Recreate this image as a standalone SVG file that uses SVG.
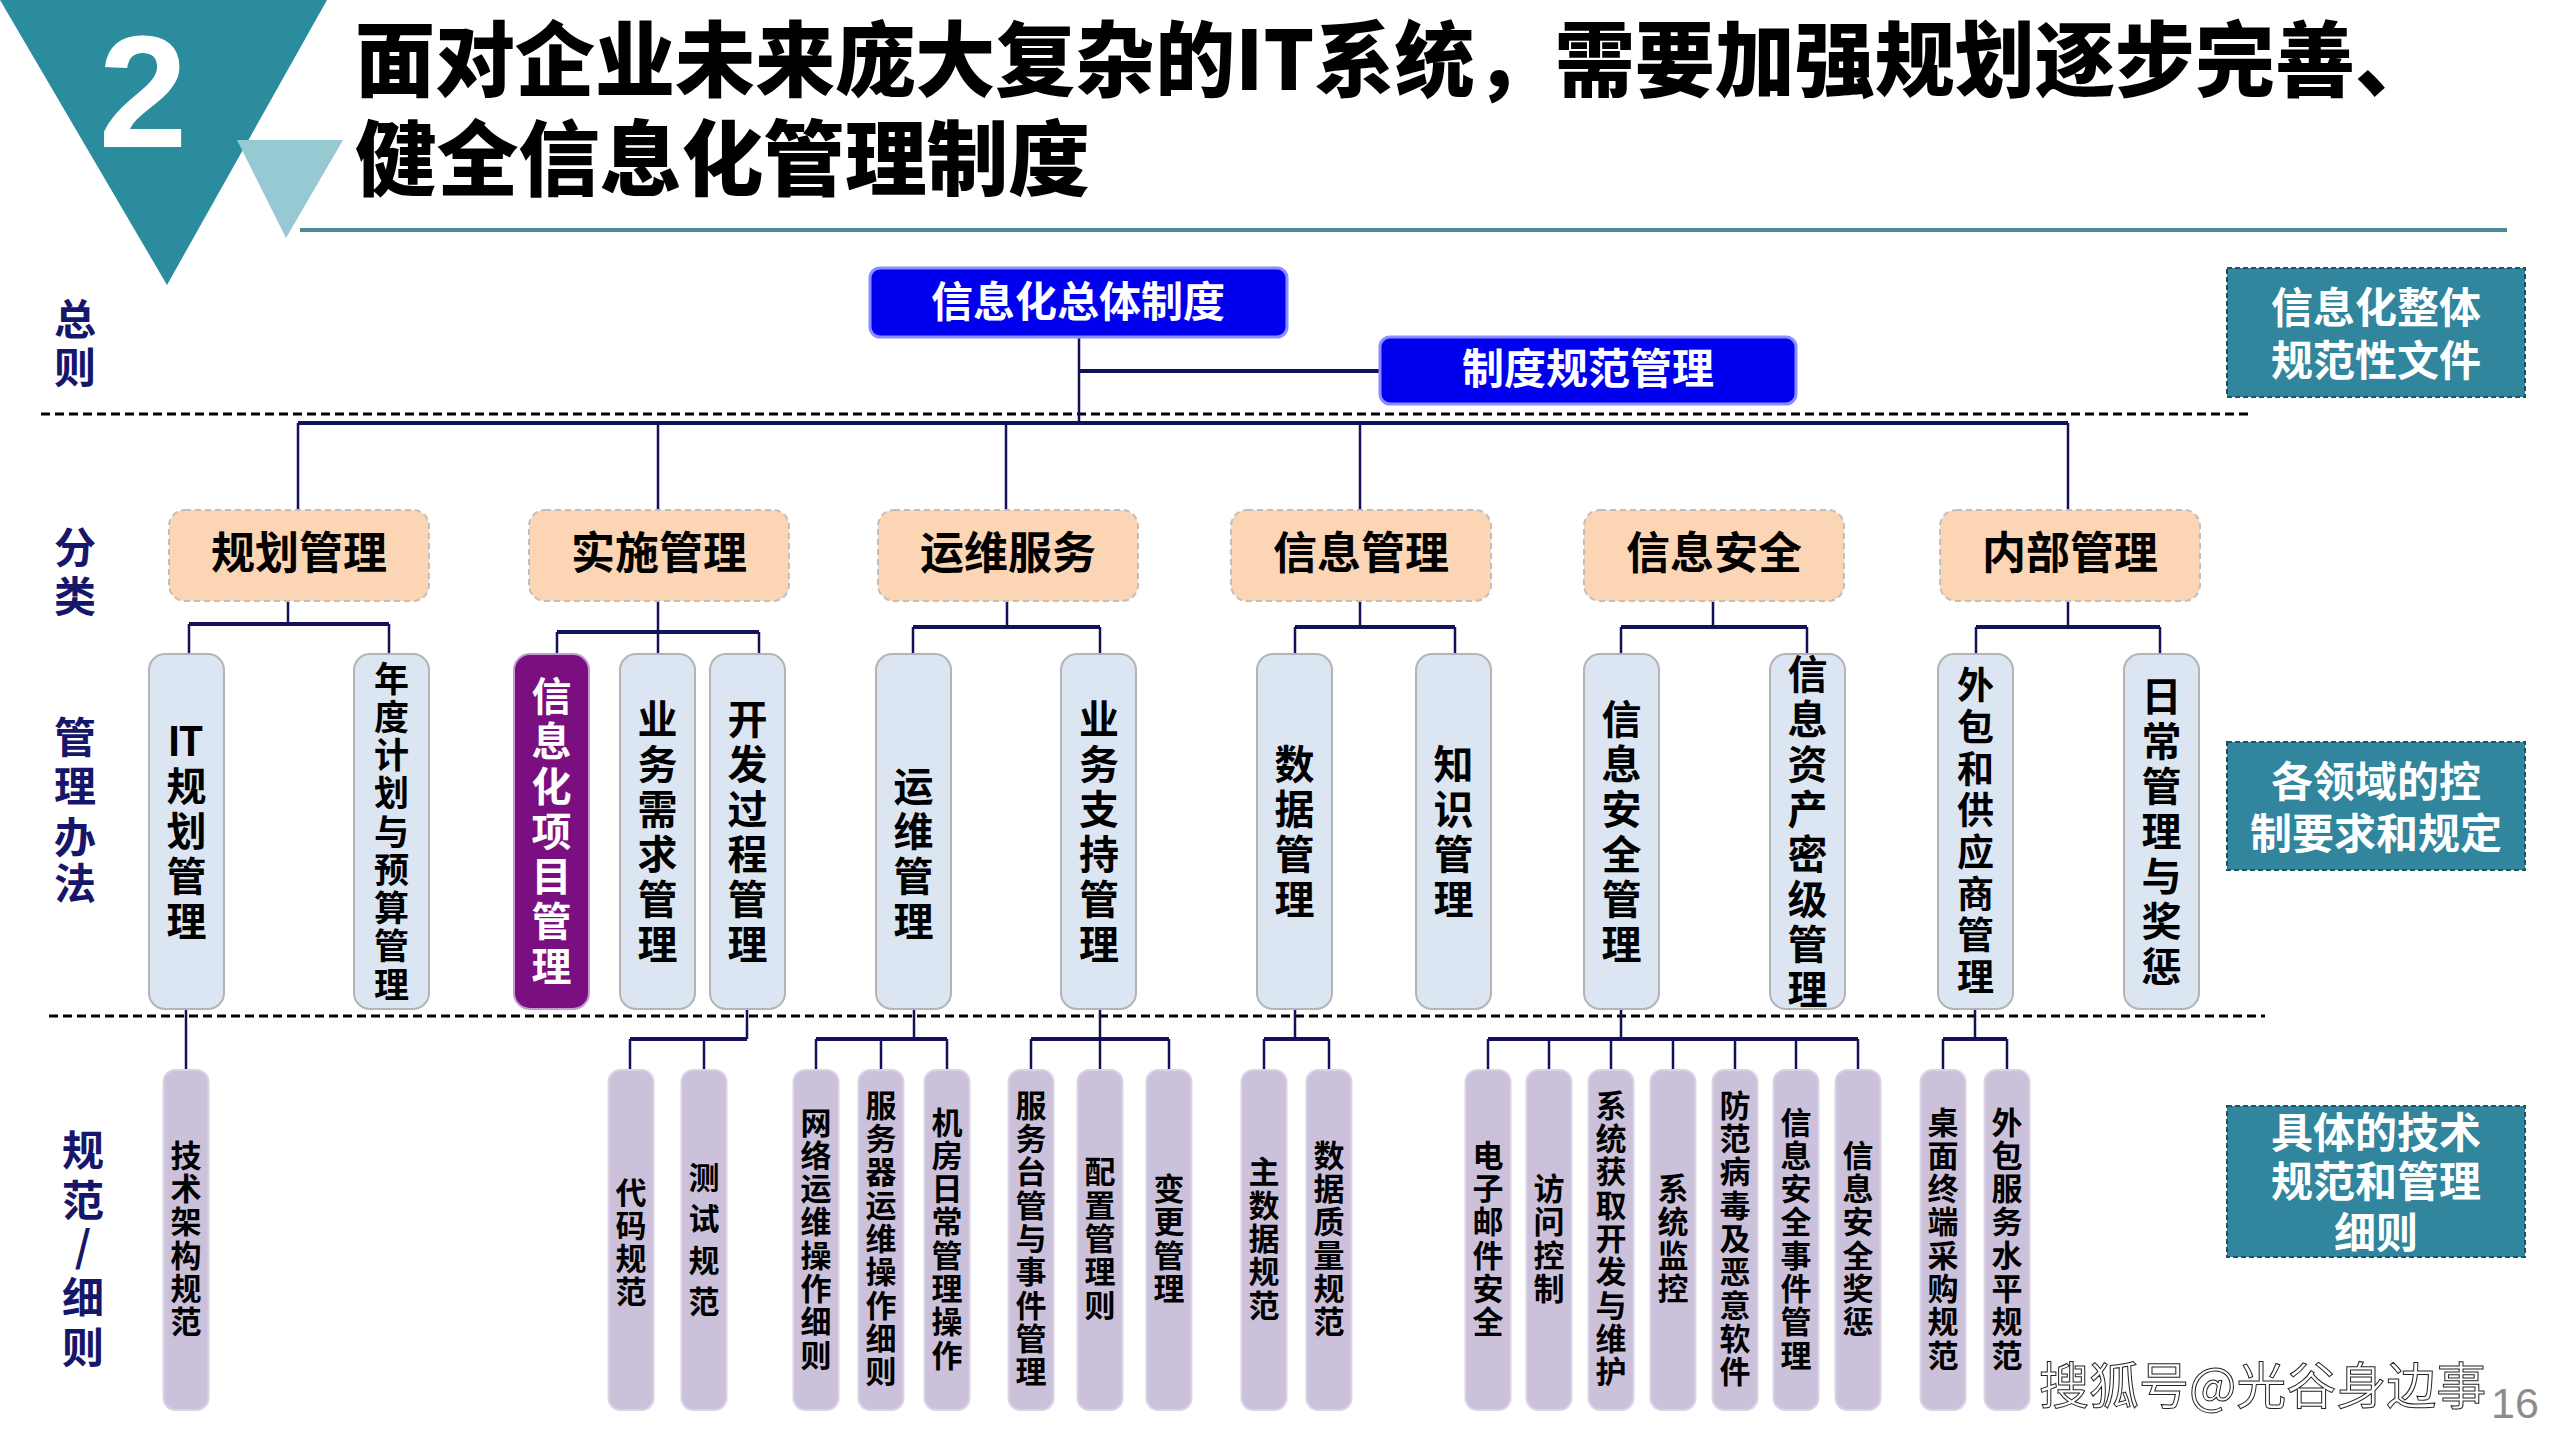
<svg xmlns="http://www.w3.org/2000/svg" width="2560" height="1440" viewBox="0 0 2560 1440">
<style>
text{font-family:"Noto Sans CJK SC","Noto Sans",sans-serif;font-weight:700}
.title{font-size:82px;font-weight:900;fill:#000}
.side{font-size:42px;fill:#16166A;text-anchor:middle}
.blue rect{fill:#0000EE;stroke:#8C8CFF;stroke-width:3}
.blue text{fill:#fff;font-size:42px;text-anchor:middle}
.cat rect{fill:#FCD5B5;stroke:#BFBFBF;stroke-width:2;stroke-dasharray:6 4}
.cat text{font-size:44px;fill:#000;text-anchor:middle}
.l3 rect{fill:#DCE6F2;stroke:#B4B4B4;stroke-width:2}
.l3 text{font-size:40px;fill:#000;text-anchor:middle}
.l3.hi rect{fill:#7A0F80;stroke:#C39BD3}
.l3.hi text{fill:#fff}
.l4 rect{fill:#CCC1DA;stroke:#DAD3E6;stroke-width:2}
.l4 text{font-size:31px;fill:#000;text-anchor:middle}
.note rect{fill:#31859C;stroke:#1E5565;stroke-width:2;stroke-dasharray:5 3}
.note text{font-size:42px;fill:#fff;text-anchor:middle}
.wire{stroke:#12125A;fill:none;stroke-width:2.5}
.bus{stroke:#12125A;fill:none;stroke-width:4}
.sep{stroke:#000;stroke-width:3;stroke-dasharray:9 5}
</style>
<rect width="2560" height="1440" fill="#fff"/>

<g id="header">
<polygon points="0,0 327,0 167,285" fill="#2B8C9E"/>
<polygon points="237,140 343,140 286,238" fill="#97C9D2"/>
<text x="143" y="147" style="font-family:'Liberation Sans',sans-serif;font-weight:700;font-size:160px;fill:#fff;text-anchor:middle">2</text>
<text class="title" x="355" y="90" textLength="2080" lengthAdjust="spacingAndGlyphs">面对企业未来庞大复杂的IT系统，需要加强规划逐步完善、</text>
<text class="title" x="355" y="189" textLength="735" lengthAdjust="spacingAndGlyphs">健全信息化管理制度</text>
<line x1="300" y1="230" x2="2507" y2="230" stroke="#4B8C96" stroke-width="4"/>
</g>

<g id="side-labels">
<text class="side" x="75 75" y="334.5 382.5">总则</text>
<text class="side" x="75 75" y="562.5 612">分类</text>
<text class="side" x="75 75 75 75" y="752.5 801.5 852.5 898.5">管理办法</text>
<text class="side" x="83 83 83 83 83" y="1165.5 1215.5 1262 1312.5 1362.5">规范/细则</text>
</g>

<g id="separators">
<line class="sep" x1="41" y1="414" x2="2253" y2="414"/>
<line class="sep" x1="49" y1="1016" x2="2265" y2="1016"/>
</g>

<g id="connectors">
<path class="wire" d="M1079 337V423 M298 423V510 M658 423V510 M1006 423V510 M1360 423V510 M2068 423V510"/>
<path class="bus" d="M1079 371H1380 M298 423H2068"/>
<path class="wire" d="M288 601V624 M658 601V654 M1007 601V627 M1360 601V627 M1713 601V627 M2068 601V627"/>
<path class="bus" d="M189 624H389 M557 632H759 M913 627H1100 M1295 627H1455 M1621 627H1807 M1976 627H2160"/>
<path class="wire" d="M189 624V654 M389 624V654 M557 632V654 M759 632V654 M913 627V654 M1100 627V654 M1295 627V654 M1455 627V654 M1621 627V654 M1807 627V654 M1976 627V654 M2160 627V654"/>
<path class="wire" d="M186 1009V1070 M747 1009V1039 M914 1009V1039 M1100 1009V1070 M1295 1009V1039 M1621 1009V1039 M1975 1009V1039"/>
<path class="bus" d="M630 1039H747 M816 1039H947 M1031 1039H1169 M1264 1039H1329 M1488 1039H1858 M1943 1039H2007"/>
<path class="wire" d="M630 1039V1070 M704 1039V1070 M816 1039V1070 M881 1039V1070 M947 1039V1070 M1031 1039V1070 M1169 1039V1070 M1264 1039V1070 M1329 1039V1070 M1488 1039V1070 M1549 1039V1070 M1611 1039V1070 M1673 1039V1070 M1735 1039V1070 M1796 1039V1070 M1858 1039V1070 M1943 1039V1070 M2007 1039V1070"/>
</g>

<g id="n-zongti" class="blue"><rect x="870" y="268" width="417" height="69" rx="10"/><text x="1078" y="316.5">信息化总体制度</text></g>
<g id="n-zhidu" class="blue"><rect x="1380" y="337" width="416" height="67" rx="10"/><text x="1588" y="384">制度规范管理</text></g>

<g id="c-guihua" class="cat"><rect x="169" y="510" width="260" height="91" rx="16"/><text x="299" y="569">规划管理</text></g>
<g id="c-shishi" class="cat"><rect x="529" y="510" width="260" height="91" rx="16"/><text x="659" y="569">实施管理</text></g>
<g id="c-yunwei" class="cat"><rect x="878" y="510" width="260" height="91" rx="16"/><text x="1008" y="569">运维服务</text></g>
<g id="c-xinxi" class="cat"><rect x="1231" y="510" width="260" height="91" rx="16"/><text x="1361" y="569">信息管理</text></g>
<g id="c-anquan" class="cat"><rect x="1584" y="510" width="260" height="91" rx="16"/><text x="1714" y="569">信息安全</text></g>
<g id="c-neibu" class="cat"><rect x="1940" y="510" width="260" height="91" rx="16"/><text x="2070" y="569">内部管理</text></g>

<g id="m-itgh" class="l3"><rect x="149" y="654" width="75" height="355" rx="16"/><text x="174 191 186.5 186.5 186.5 186.5" y="756 756 801.3 846.3 891.3 936.3">IT规划管理</text></g>
<g id="m-ndjh" class="l3"><rect x="354" y="654" width="75" height="355" rx="16"/><text style="font-size:35px" x="391.5 391.5 391.5 391.5 391.5 391.5 391.5 391.5 391.5" y="691.5 729.7 768 806.2 844.5 882.7 921 959.2 997.5">年度计划与预算管理</text></g>
<g id="m-xmgl" class="l3 hi"><rect x="514" y="654" width="75" height="355" rx="16"/><text x="551.5 551.5 551.5 551.5 551.5 551.5 551.5" y="711.3 756.3 801.3 846.3 891.3 936.3 981.3">信息化项目管理</text></g>
<g id="m-ywxq" class="l3"><rect x="620" y="654" width="75" height="355" rx="16"/><text x="657.5 657.5 657.5 657.5 657.5 657.5" y="733.8 778.8 823.8 868.8 913.8 958.8">业务需求管理</text></g>
<g id="m-kfgc" class="l3"><rect x="710" y="654" width="75" height="355" rx="16"/><text x="747.5 747.5 747.5 747.5 747.5 747.5" y="733.8 778.8 823.8 868.8 913.8 958.8">开发过程管理</text></g>
<g id="m-ywgl" class="l3"><rect x="876" y="654" width="75" height="355" rx="16"/><text x="913.5 913.5 913.5 913.5" y="800.8 845.8 890.8 935.8">运维管理</text></g>
<g id="m-ywzc" class="l3"><rect x="1061" y="654" width="75" height="355" rx="16"/><text x="1099 1099 1099 1099 1099 1099" y="733.8 778.8 823.8 868.8 913.8 958.8">业务支持管理</text></g>
<g id="m-sjgl" class="l3"><rect x="1257" y="654" width="75" height="355" rx="16"/><text x="1294.5 1294.5 1294.5 1294.5" y="778.8 823.8 868.8 913.8">数据管理</text></g>
<g id="m-zsgl" class="l3"><rect x="1416" y="654" width="75" height="355" rx="16"/><text x="1453.5 1453.5 1453.5 1453.5" y="778.8 823.8 868.8 913.8">知识管理</text></g>
<g id="m-xxaq" class="l3"><rect x="1584" y="654" width="75" height="355" rx="16"/><text x="1621.5 1621.5 1621.5 1621.5 1621.5 1621.5" y="733.8 778.8 823.8 868.8 913.8 958.8">信息安全管理</text></g>
<g id="m-zcmj" class="l3"><rect x="1770" y="654" width="75" height="355" rx="16"/><text x="1807.5 1807.5 1807.5 1807.5 1807.5 1807.5 1807.5 1807.5" y="688.8 733.8 778.8 823.8 868.8 913.8 958.8 1003.8">信息资产密级管理</text></g>
<g id="m-wbgys" class="l3"><rect x="1938" y="654" width="75" height="355" rx="16"/><text style="font-size:37px" x="1975.5 1975.5 1975.5 1975.5 1975.5 1975.5 1975.5 1975.5" y="699.3 740.9 782.6 824.3 866 907.7 949.4 991.1">外包和供应商管理</text></g>
<g id="m-rcgl" class="l3"><rect x="2124" y="654" width="75" height="355" rx="16"/><text x="2161.5 2161.5 2161.5 2161.5 2161.5 2161.5 2161.5" y="711.3 756.3 801.3 846.3 891.3 936.3 981.3">日常管理与奖惩</text></g>

<g id="d-jsjg" class="l4"><rect x="163.5" y="1070" width="45" height="340" rx="12"/><text x="186 186 186 186 186 186" y="1166.8 1200.1 1233.4 1266.7 1300 1333.3">技术架构规范</text></g>
<g id="d-dmgf" class="l4"><rect x="608.5" y="1070" width="45" height="340" rx="12"/><text x="631 631 631 631" y="1203.5 1236.5 1269.5 1302.5">代码规范</text></g>
<g id="d-csgf" class="l4"><rect x="681.5" y="1070" width="45" height="340" rx="12"/><text x="704 704 704 704" y="1188.5 1230.1 1271.7 1313.3">测试规范</text></g>
<g id="d-wlyw" class="l4"><rect x="793.5" y="1070" width="45" height="340" rx="12"/><text x="816 816 816 816 816 816 816 816" y="1133.5 1166.8 1200.1 1233.4 1266.7 1300 1333.3 1366.6">网络运维操作细则</text></g>
<g id="d-fwqyw" class="l4"><rect x="858.5" y="1070" width="45" height="340" rx="12"/><text x="881 881 881 881 881 881 881 881 881" y="1116.8 1150.1 1183.4 1216.7 1250 1283.3 1316.6 1349.9 1383.2">服务器运维操作细则</text></g>
<g id="d-jfrc" class="l4"><rect x="924.5" y="1070" width="45" height="340" rx="12"/><text x="947 947 947 947 947 947 947 947" y="1133.5 1166.8 1200.1 1233.4 1266.7 1300 1333.3 1366.6">机房日常管理操作</text></g>
<g id="d-fwt" class="l4"><rect x="1008.5" y="1070" width="45" height="340" rx="12"/><text x="1031 1031 1031 1031 1031 1031 1031 1031 1031" y="1116.8 1150.1 1183.4 1216.7 1250 1283.3 1316.6 1349.9 1383.2">服务台管与事件管理</text></g>
<g id="d-pzgl" class="l4"><rect x="1077.5" y="1070" width="45" height="340" rx="12"/><text x="1100 1100 1100 1100 1100" y="1183.4 1216.7 1250 1283.3 1316.6">配置管理则</text></g>
<g id="d-bggl" class="l4"><rect x="1146.5" y="1070" width="45" height="340" rx="12"/><text x="1169 1169 1169 1169" y="1200 1233.4 1266.7 1300">变更管理</text></g>
<g id="d-zsj" class="l4"><rect x="1241.5" y="1070" width="45" height="340" rx="12"/><text x="1264 1264 1264 1264 1264" y="1183.4 1216.7 1250 1283.3 1316.6">主数据规范</text></g>
<g id="d-sjzl" class="l4"><rect x="1306.5" y="1070" width="45" height="340" rx="12"/><text x="1329 1329 1329 1329 1329 1329" y="1166.8 1200.1 1233.4 1266.7 1300 1333.3">数据质量规范</text></g>
<g id="d-dzyj" class="l4"><rect x="1465.5" y="1070" width="45" height="340" rx="12"/><text x="1488 1488 1488 1488 1488 1488" y="1166.8 1200.1 1233.4 1266.7 1300 1333.3">电子邮件安全</text></g>
<g id="d-fwkz" class="l4"><rect x="1526.5" y="1070" width="45" height="340" rx="12"/><text x="1549 1549 1549 1549" y="1200 1233.4 1266.7 1300">访问控制</text></g>
<g id="d-xthq" class="l4"><rect x="1588.5" y="1070" width="45" height="340" rx="12"/><text x="1611 1611 1611 1611 1611 1611 1611 1611 1611" y="1116.8 1150.1 1183.4 1216.7 1250 1283.3 1316.6 1349.9 1383.2">系统获取开发与维护</text></g>
<g id="d-xtjk" class="l4"><rect x="1650.5" y="1070" width="45" height="340" rx="12"/><text x="1673 1673 1673 1673" y="1200 1233.4 1266.7 1300">系统监控</text></g>
<g id="d-ffbd" class="l4"><rect x="1712.5" y="1070" width="45" height="340" rx="12"/><text x="1735 1735 1735 1735 1735 1735 1735 1735 1735" y="1116.8 1150.1 1183.4 1216.7 1250 1283.3 1316.6 1349.9 1383.2">防范病毒及恶意软件</text></g>
<g id="d-aqsj" class="l4"><rect x="1773.5" y="1070" width="45" height="340" rx="12"/><text x="1796 1796 1796 1796 1796 1796 1796 1796" y="1133.5 1166.8 1200.1 1233.4 1266.7 1300 1333.3 1366.6">信息安全事件管理</text></g>
<g id="d-aqjc" class="l4"><rect x="1835.5" y="1070" width="45" height="340" rx="12"/><text x="1858 1858 1858 1858 1858 1858" y="1166.8 1200.1 1233.4 1266.7 1300 1333.3">信息安全奖惩</text></g>
<g id="d-zmzd" class="l4"><rect x="1920.5" y="1070" width="45" height="340" rx="12"/><text x="1943 1943 1943 1943 1943 1943 1943 1943" y="1133.5 1166.8 1200.1 1233.4 1266.7 1300 1333.3 1366.6">桌面终端采购规范</text></g>
<g id="d-wbfw" class="l4"><rect x="1984.5" y="1070" width="45" height="340" rx="12"/><text x="2007 2007 2007 2007 2007 2007 2007 2007" y="1133.5 1166.8 1200.1 1233.4 1266.7 1300 1333.3 1366.6">外包服务水平规范</text></g>

<g id="note-1" class="note"><rect x="2227" y="268" width="298" height="129"/><text x="2376" y="323">信息化整体</text><text x="2376" y="375.5">规范性文件</text></g>
<g id="note-2" class="note"><rect x="2227" y="742" width="298" height="128"/><text x="2376" y="797">各领域的控</text><text x="2376" y="849">制要求和规定</text></g>
<g id="note-3" class="note"><rect x="2227" y="1106" width="298" height="151"/><text x="2376" y="1148">具体的技术</text><text x="2376" y="1197">规范和管理</text><text x="2376" y="1248">细则</text></g>

<g id="footer">
<text x="2039" y="1404" style="font-size:50px;font-weight:400;fill:#fff;stroke:#222;stroke-width:1">搜狐号@光谷身边事</text>
<text x="2491" y="1418" style="font-family:'Liberation Sans',sans-serif;font-weight:400;font-size:43px;fill:#8C8C8C">16</text>
</g>
</svg>
